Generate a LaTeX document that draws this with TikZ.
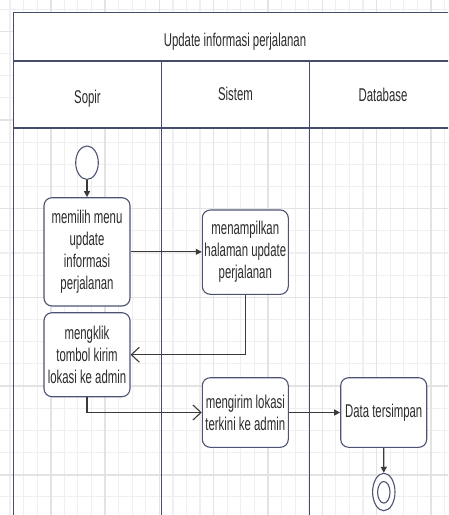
\documentclass[tikz,border=0pt]{standalone}
\usepackage{fontspec}
\setmainfont[FakeStretch=0.615]{Liberation Sans}
\usetikzlibrary{arrows.meta,shapes.geometric}
\definecolor{gridminor}{HTML}{EFEFEF}
\definecolor{gridmajor}{HTML}{E3E3E3}
\definecolor{frameC}{HTML}{474C6C}
\definecolor{boxC}{HTML}{4E5375}
\definecolor{lineC}{HTML}{3A3A3A}
\definecolor{txtC}{HTML}{2B2B2B}
\begin{document}
\begin{tikzpicture}[x=1pt,y=-1pt,
  txt/.style={font=\fontsize{18.5}{22}\selectfont, text=txtC, align=center},
  act/.style={txt, draw=boxC, line width=1.1pt, fill=white, rounded corners=8pt, inner sep=0pt},
  startnode/.style={draw=boxC, fill=white, ellipse, inner sep=0pt, line width=1.1pt},
  conn/.style={draw=lineC, line width=1.1pt},
  fillarrow/.style={-{Triangle[length=6pt,width=6pt]}},
  openarrow/.style={-{Straight Barb[length=8pt,width=15pt]}},
  gminor/.style={draw=gridminor, line width=1.2pt},
  gmajor/.style={draw=gridmajor, line width=1.6pt},
  lane/.style={draw=frameC, line width=1.3pt},
  laneh/.style={draw=frameC, line width=1.6pt}
]
\useasboundingbox (0,0) rectangle (448,515);
\clip (0,0) rectangle (448,515);
\fill[white] (0,0) rectangle (448,515);
% grid
\foreach \k in {-3,...,29}{\draw[gminor] ({50.7+13.58*\k},0) -- ++(0,515);}
\foreach \k in {-1,...,22}{\draw[gminor] (0,{31.3+22.17*\k}) -- ++(448,0);}
\foreach \k in {-1,...,7}{\draw[gmajor] ({50.7+54.32*\k},0) -- ++(0,515);}
\foreach \k in {0,...,5}{\draw[gmajor] (0,{31.3+88.68*\k}) -- ++(448,0);}
% pool header
\fill[white] (13.3,12.7) rectangle (460,127.7);
\draw[lane] (460,12.7) -- (13.3,12.7) -- (13.3,520);
\draw[laneh] (13.3,61) -- (460,61);
\draw[laneh] (13.3,127.7) -- (460,127.7);
\draw[lane] (161.7,61) -- (161.7,520);
\draw[lane] (309.3,61) -- (309.3,520);
\node[txt, anchor=base] (title) at (235,46) {Update informasi perjalanan};
\node[txt, anchor=base] (hSopir) at (87.5,103.3) {Sopir};
\node[txt, anchor=base] (hSistem) at (235.5,100) {Sistem};
\node[txt, anchor=base] (hDb) at (383,101.7) {Database};
% nodes
\node[startnode, minimum width=22.6pt, minimum height=33.4pt] (start) at (87,162.7) {};
\node[act, minimum width=86pt, minimum height=108.3pt] (act1) at (87,251.85) {memilih menu\\update\\informasi\\perjalanan};
\node[act, minimum width=86pt, minimum height=84.3pt] (act2) at (245.3,252.15) {menampilkan\\halaman update\\perjalanan};
\node[act, minimum width=86pt, minimum height=84pt] (act3) at (87,354.7) {mengklik\\tombol kirim\\lokasi ke admin};
\node[act, minimum width=86pt, minimum height=69.6pt] (act4) at (245.3,412.5) {mengirim lokasi\\terkini ke admin};
\node[act, minimum width=86pt, minimum height=69.6pt] (act5) at (383.7,412.5) {Data tersimpan};
\node[startnode, minimum width=22.4pt, minimum height=37.4pt] (endO) at (383.8,492) {};
\node[startnode, minimum width=12.4pt, minimum height=21.6pt] (endI) at (383.8,492.3) {};
% connectors
\draw[conn, fillarrow] (start.south) -- (act1.north);
\draw[conn, fillarrow] (act1.east) -- (act2.west |- act1.east);
\draw[conn, openarrow] (act2.south) |- (act3.east);
\draw[conn, openarrow] (act3.south) |- (act4.west);
\draw[conn, fillarrow] (act4.east) -- (act5.west);
\draw[conn, fillarrow] (act5.south) -- (endO.north);
\end{tikzpicture}
\end{document}
